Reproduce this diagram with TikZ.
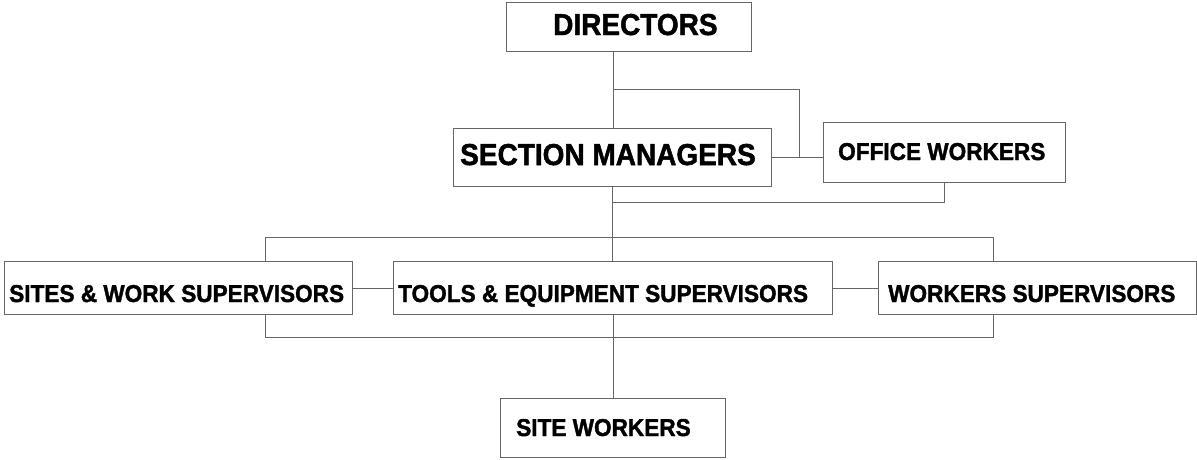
\documentclass[tikz,border=0pt]{standalone}
\usepackage{fontspec}
\setmainfont{Liberation Sans}
\newfontfamily\heavyfont[FakeBold=1.6]{Liberation Sans Bold}
\newcommand{\tallt}[1]{\scalebox{1}[1.08]{#1}}
\begin{document}
\begin{tikzpicture}[x=1pt,y=-1pt,
  boxst/.style={draw=black!60,line width=1pt,rectangle,inner sep=0pt,anchor=north west},
  conn/.style={draw=black!60,line width=1pt},
  bigtxt/.style={inner sep=0pt,anchor=base west,font=\fontsize{28}{30}\heavyfont},
  smalltxt/.style={inner sep=0pt,anchor=base west,font=\fontsize{22.6}{24}\heavyfont}]
\useasboundingbox (0,0) rectangle (1197,459);
\fill[white] (0,0) rectangle (1197,459);
% boxes
\node[boxst,minimum width=245pt,minimum height=49pt] (D) at (506,2) {};
\node[boxst,minimum width=318pt,minimum height=58pt] (SM) at (453,128) {};
\node[boxst,minimum width=242pt,minimum height=60pt] (OW) at (823,122) {};
\node[boxst,minimum width=348pt,minimum height=53pt] (SWS) at (4,261) {};
\node[boxst,minimum width=439pt,minimum height=53pt] (TES) at (393,261) {};
\node[boxst,minimum width=318pt,minimum height=53pt] (WS) at (878,261) {};
\node[boxst,minimum width=225pt,minimum height=59pt] (SW) at (500,398) {};
% texts
\node[bigtxt] (tD) at (553,35) {\tallt{DIRECTORS}};
\node[bigtxt] (tSM) at (460,165) {\tallt{SECTION MANAGERS}};
\node[smalltxt] (tOW) at (838,160) {\tallt{OFFICE WORKERS}};
\node[smalltxt] (tSWS) at (9,302) {\tallt{SITES \& WORK SUPERVISORS}};
\node[smalltxt] (tTES) at (398,302) {\tallt{TOOLS \& EQUIPMENT SUPERVISORS}};
\node[smalltxt] (tWS) at (888,302) {\tallt{WORKERS SUPERVISORS}};
\node[smalltxt] (tSW) at (516,436) {\tallt{SITE WORKERS}};
% helper coordinates
\coordinate (x1) at (613,0);
\coordinate (b1) at (799,89);
\coordinate (owx) at (944,0);
\coordinate (b2) at (612,202);
\coordinate (lx) at (265,0);
\coordinate (rx) at (993,0);
\coordinate (top) at (0,237);
\coordinate (bot) at (0,337);
% connectors
\draw[conn] (D.south -| x1) -- (SM.north -| x1);
\draw[conn] (x1 |- b1) -- (b1) -- (b1 |- SM.east);
\draw[conn] (SM.east) -- (OW.west |- SM.east);
\draw[conn] (OW.south -| owx) -- (owx |- b2) -- (b2);
\draw[conn] (SM.south) -- (TES.north -| SM.south);
\draw[conn] (SWS.north -| lx) -- (lx |- top) -- (rx |- top) -- (WS.north -| rx);
\draw[conn] (SWS.south -| lx) -- (lx |- bot) -- (rx |- bot) -- (WS.south -| rx);
\draw[conn] (SWS.east) -- (TES.west);
\draw[conn] (TES.east) -- (WS.west);
\draw[conn] (TES.south) -- (SW.north);
\end{tikzpicture}
\end{document}
